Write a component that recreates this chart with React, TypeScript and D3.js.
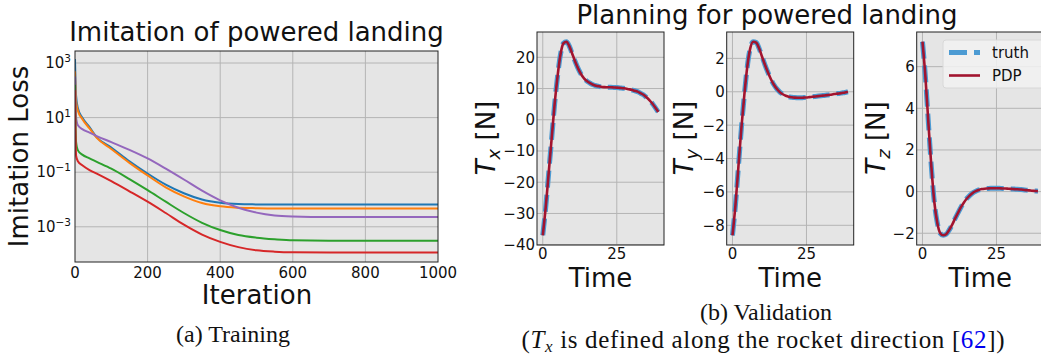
import React, { useEffect, useRef } from 'react';
import * as d3 from 'd3';

// ---- training curves (imitation loss vs iteration) ----
const iterations = [0, 3, 8, 20, 40, 60, 100, 150, 200, 250, 300, 350, 400, 450, 500, 550, 600, 700, 800, 1000];
const lossBlue = [1400, 63, 22, 10, 4.5, 1.9, 0.8, 0.25, 0.089, 0.035, 0.017, 0.010, 0.0076, 0.0068, 0.0066, 0.0065, 0.0065, 0.0065, 0.0065, 0.0065];
const lossOrange = [500, 40, 18, 8.9, 4.0, 1.8, 0.71, 0.22, 0.076, 0.028, 0.013, 0.0074, 0.0056, 0.005, 0.0048, 0.0047, 0.0047, 0.0047, 0.0047, 0.0047];
const lossGreen = [160, 1.26, 0.63, 0.44, 0.32, 0.24, 0.135, 0.056, 0.022, 0.0083, 0.0032, 0.0014, 0.00076, 0.0005, 0.0004, 0.00035, 0.00032, 0.00031, 0.00031, 0.00031];
const lossRed = [100, 0.4, 0.25, 0.18, 0.12, 0.089, 0.047, 0.02, 0.0083, 0.0032, 0.0012, 0.00052, 0.00028, 0.00018, 0.000138, 0.000123, 0.000117, 0.000115, 0.000115, 0.000115];
const lossPurple = [320, 10, 5.2, 3.8, 2.8, 2.1, 1.26, 0.66, 0.32, 0.135, 0.054, 0.021, 0.0093, 0.005, 0.0033, 0.0026, 0.0024, 0.0023, 0.0023, 0.0023];
const trainSeries = [
  { values: lossBlue, color: '#1f77b4' },
  { values: lossOrange, color: '#ff7f0e' },
  { values: lossPurple, color: '#9467bd' },
  { values: lossGreen, color: '#2ca02c' },
  { values: lossRed, color: '#d62728' },
];
const iterTicks = [0, 200, 400, 600, 800, 1000];
const lossTickExps = [3, 1, -1, -3];

// ---- validation trajectories (t = 0..39) ----
const thrustX = [-37, -28, -17, -6, 5, 14, 21, 24.5, 25, 23.5, 21, 18.5, 16.3, 14.5, 13.2, 12.3, 11.7, 11.2, 10.9, 10.7,
  10.5, 10.45, 10.4, 10.4, 10.35, 10.3, 10.2, 10.1, 10, 9.8, 9.6, 9.3, 9, 8.5, 8, 7.2, 6.3, 5.2, 3.9, 2.5];
const thrustY = [-8.6, -6.8, -4.5, -2.2, -0.2, 1.5, 2.6, 3.0, 2.95, 2.6, 2.1, 1.6, 1.15, 0.75, 0.42, 0.17, -0.02, -0.15, -0.24, -0.3,
  -0.33, -0.35, -0.36, -0.36, -0.35, -0.34, -0.32, -0.3, -0.28, -0.26, -0.24, -0.22, -0.2, -0.18, -0.15, -0.12, -0.1, -0.07, -0.04, 0.0];
const thrustZ = [7.2, 5.5, 3.3, 1.2, -0.5, -1.5, -2.0, -2.1, -2.05, -1.85, -1.6, -1.3, -1.02, -0.75, -0.52, -0.33, -0.18, -0.06, 0.02, 0.08,
  0.12, 0.14, 0.15, 0.16, 0.16, 0.16, 0.16, 0.15, 0.15, 0.14, 0.13, 0.12, 0.11, 0.1, 0.09, 0.07, 0.06, 0.04, 0.03, 0.02];
const timeTicks = [0, 25];
const panels = [
  { data: thrustX, sub: 'x', ticks: [-40, -30, -20, -10, 0, 10, 20], left: 537, labelGap: 42 },
  { data: thrustY, sub: 'y', ticks: [-8, -6, -4, -2, 0, 2], left: 726.7, labelGap: 34 },
  { data: thrustZ, sub: 'z', ticks: [-2, 0, 2, 4, 6], left: 916.7, labelGap: 32 },
];

const SANS = 'DejaVu Sans';
const SERIF = 'Liberation Serif';
const BG = '#e5e5e5';
const GRID = '#b4b4b4';
const TRUTH = '#4c9bd3';
const PDP = '#a2142f';
const BIG = 26;

const fmt = (v: number) => (v < 0 ? '\u2212' + Math.abs(v) : String(v));

const App: React.FC = () => {
  const svgRef = useRef<SVGSVGElement>(null);

  useEffect(() => {
    if (!svgRef.current) return;
    const svg = d3.select(svgRef.current);
    svg.selectAll('*').remove();

    // ================= (a) training =================
    const L = { x0: 75, x1: 438, y0: 51, y1: 262 };
    const xs = d3.scaleLinear().domain([0, 1000]).range([L.x0, L.x1]);
    const ys = d3.scaleLog().domain([Math.pow(10, -4.29), Math.pow(10, 3.44)]).range([L.y1, L.y0]);

    const ga = svg.append('g');
    ga.append('rect').attr('x', L.x0).attr('y', L.y0).attr('width', L.x1 - L.x0).attr('height', L.y1 - L.y0).attr('fill', BG);

    iterTicks.slice(1, -1).forEach(t => {
      ga.append('line').attr('x1', xs(t)).attr('x2', xs(t)).attr('y1', L.y0).attr('y2', L.y1)
        .attr('stroke', GRID).attr('stroke-width', 1);
    });
    lossTickExps.forEach(e => {
      ga.append('line').attr('x1', L.x0).attr('x2', L.x1).attr('y1', ys(Math.pow(10, e))).attr('y2', ys(Math.pow(10, e)))
        .attr('stroke', GRID).attr('stroke-width', 1);
    });

    const clipA = svg.append('clipPath').attr('id', 'clipA');
    clipA.append('rect').attr('x', L.x0).attr('y', L.y0).attr('width', L.x1 - L.x0).attr('height', L.y1 - L.y0);

    const lossLine = d3.line<number>()
      .x((_, i) => xs(iterations[i]))
      .y(d => ys(d))
      .curve(d3.curveMonotoneX);

    trainSeries.forEach(s => {
      ga.append('path').attr('d', lossLine(s.values) || '')
        .attr('fill', 'none').attr('stroke', s.color).attr('stroke-width', 2)
        .attr('clip-path', 'url(#clipA)');
    });

    ga.append('rect').attr('x', L.x0).attr('y', L.y0).attr('width', L.x1 - L.x0).attr('height', L.y1 - L.y0)
      .attr('fill', 'none').attr('stroke', '#222').attr('stroke-width', 1);

    // tick labels
    iterTicks.forEach(t => {
      ga.append('text').attr('x', xs(t)).attr('y', L.y1 + 15.5).attr('text-anchor', 'middle')
        .attr('font-family', SANS).attr('font-size', 15).attr('fill', '#111').text(String(t));
    });
    lossTickExps.forEach(e => {
      const t = ga.append('text').attr('x', L.x0 - 4).attr('y', ys(Math.pow(10, e)) + 5).attr('text-anchor', 'end')
        .attr('font-family', SANS).attr('font-size', 15).attr('fill', '#111');
      t.append('tspan').text('10');
      t.append('tspan').attr('dy', -6).attr('font-size', 10.5).text(fmt(e));
    });

    ga.append('text').attr('x', (L.x0 + L.x1) / 2).attr('y', 41).attr('text-anchor', 'middle')
      .attr('font-family', SANS).attr('font-size', BIG).attr('fill', '#111').text('Imitation of powered landing');
    ga.append('text').attr('x', (L.x0 + L.x1) / 2 + 0.5).attr('y', 303.5).attr('text-anchor', 'middle')
      .attr('font-family', SANS).attr('font-size', BIG).attr('fill', '#111').text('Iteration');
    ga.append('text').attr('transform', `translate(28,${(L.y0 + L.y1) / 2}) rotate(-90)`).attr('text-anchor', 'middle')
      .attr('font-family', SANS).attr('font-size', BIG).attr('fill', '#111').text('Imitation Loss');
    ga.append('text').attr('x', 233).attr('y', 342).attr('text-anchor', 'middle')
      .attr('font-family', SERIF).attr('font-size', 24).attr('fill', '#111').text('(a) Training');

    // ================= (b) validation =================
    const top = 32, bottom = 245, pw = 127;
    const gb = svg.append('g');

    panels.forEach((p, k) => {
      const px = d3.scaleLinear().domain([-1.95, 40.95]).range([p.left, p.left + pw]);
      const lo = d3.min(p.data) as number, hi = d3.max(p.data) as number;
      const pad = (hi - lo) * 0.05;
      const py = d3.scaleLinear().domain([lo - pad, hi + pad]).range([bottom, top]);
      const g = gb.append('g');
      const clipId = `clipB${k}`;
      svg.append('clipPath').attr('id', clipId).append('rect')
        .attr('x', p.left).attr('y', top).attr('width', pw).attr('height', bottom - top);

      g.append('rect').attr('x', p.left).attr('y', top).attr('width', pw).attr('height', bottom - top).attr('fill', BG);
      timeTicks.forEach(t => {
        g.append('line').attr('x1', px(t)).attr('x2', px(t)).attr('y1', top).attr('y2', bottom)
          .attr('stroke', GRID).attr('stroke-width', 1);
      });
      p.ticks.forEach(t => {
        g.append('line').attr('x1', p.left).attr('x2', p.left + pw).attr('y1', py(t)).attr('y2', py(t))
          .attr('stroke', GRID).attr('stroke-width', 1);
      });

      const line = d3.line<number>().x((_, i) => px(i)).y(d => py(d)).curve(d3.curveMonotoneX);
      g.append('path').attr('d', line(p.data) || '').attr('fill', 'none')
        .attr('stroke', TRUTH).attr('stroke-width', 5).attr('stroke-dasharray', '17,7')
        .attr('clip-path', `url(#${clipId})`);
      g.append('path').attr('d', line(p.data) || '').attr('fill', 'none')
        .attr('stroke', PDP).attr('stroke-width', 2.6)
        .attr('clip-path', `url(#${clipId})`);

      g.append('rect').attr('x', p.left).attr('y', top).attr('width', pw).attr('height', bottom - top)
        .attr('fill', 'none').attr('stroke', '#222').attr('stroke-width', 1);

      timeTicks.forEach(t => {
        g.append('text').attr('x', px(t)).attr('y', bottom + 14).attr('text-anchor', 'middle')
          .attr('font-family', SANS).attr('font-size', 15).attr('fill', '#111').text(String(t));
      });
      p.ticks.forEach(t => {
        g.append('text').attr('x', p.left - 2).attr('y', py(t) + 5.5).attr('text-anchor', 'end')
          .attr('font-family', SANS).attr('font-size', 15).attr('fill', '#111').text(fmt(t));
      });

      g.append('text').attr('x', p.left + pw / 2).attr('y', 286.5).attr('text-anchor', 'middle')
        .attr('font-family', SANS).attr('font-size', BIG).attr('fill', '#111').text('Time');

      const yl = g.append('text').attr('transform', `translate(${p.left - p.labelGap},138) rotate(-90)`).attr('text-anchor', 'middle')
        .attr('font-family', SANS).attr('font-size', BIG).attr('fill', '#111');
      yl.append('tspan').attr('font-style', 'italic').text('T');
      yl.append('tspan').attr('font-style', 'italic').attr('font-size', 18).attr('dy', 5).text(p.sub);
      yl.append('tspan').attr('dy', -5).text(' [N]');

      if (k === 2) {
        const lg = g.append('g');
        lg.append('rect').attr('x', 943).attr('y', 40).attr('width', 102).attr('height', 48).attr('rx', 3)
          .attr('fill', '#f2f2f2').attr('fill-opacity', 0.85).attr('stroke', '#d8d8d8');
        lg.append('line').attr('x1', 949).attr('x2', 980).attr('y1', 52.5).attr('y2', 52.5)
          .attr('stroke', TRUTH).attr('stroke-width', 5).attr('stroke-dasharray', '18,7');
        lg.append('line').attr('x1', 949).attr('x2', 980).attr('y1', 75.5).attr('y2', 75.5)
          .attr('stroke', PDP).attr('stroke-width', 2.6);
        lg.append('text').attr('x', 992).attr('y', 58).attr('font-family', SANS).attr('font-size', 15)
          .attr('fill', '#111').text('truth');
        lg.append('text').attr('x', 992).attr('y', 81).attr('font-family', SANS).attr('font-size', 15)
          .attr('fill', '#111').text('PDP');
      }
    });

    gb.append('text').attr('x', 767).attr('y', 24).attr('text-anchor', 'middle')
      .attr('font-family', SANS).attr('font-size', BIG).attr('fill', '#111').text('Planning for powered landing');

    gb.append('text').attr('x', 766).attr('y', 320).attr('text-anchor', 'middle')
      .attr('font-family', SERIF).attr('font-size', 24).attr('fill', '#111').text('(b) Validation');
    const cap = gb.append('text').attr('x', 763).attr('y', 348).attr('text-anchor', 'middle')
      .attr('font-family', SERIF).attr('font-size', 25).attr('fill', '#111')
      .attr('textLength', 483).attr('lengthAdjust', 'spacing');
    cap.append('tspan').text('(');
    cap.append('tspan').attr('font-style', 'italic').text('T');
    cap.append('tspan').attr('font-style', 'italic').attr('font-size', 17).attr('dy', 4).text('x');
    cap.append('tspan').attr('dy', -4).text(' is defined along the rocket direction [');
    cap.append('tspan').attr('fill', '#0000ee').text('62');
    cap.append('tspan').text('])');
  }, []);

  return (
    <svg ref={svgRef} width={1041} height={362}
      style={{ position: 'absolute', left: 0, top: 0, background: '#fff' }} />
  );
};

export default App;
